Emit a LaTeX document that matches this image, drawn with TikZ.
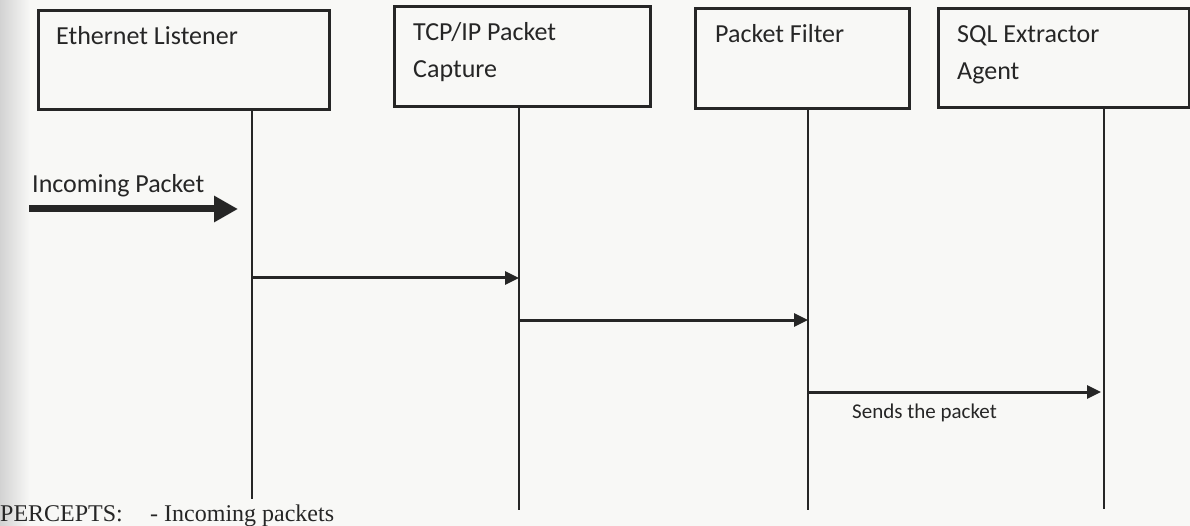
\documentclass[tikz,border=0pt]{standalone}
\usepackage{fontspec}
\setmainfont{Carlito}
\newfontfamily\timesfont{Liberation Serif}
\usetikzlibrary{arrows.meta}
\definecolor{ink}{HTML}{262626}
\definecolor{paper}{HTML}{F8F8F6}
\tikzset{
  lifebox/.style={draw=ink, line width=3.3pt, rectangle, anchor=north west, inner sep=0pt},
  boxlabel/.style={anchor=base west, inner sep=0pt, text=ink, font=\fontsize{26}{37}\selectfont, align=left},
  lifeline/.style={draw=ink, line width=2.8pt},
  msg/.style={draw=ink, line width=3pt, -{Triangle[length=14pt, width=13pt]}},
  bigarrow/.style={draw=ink, line width=7pt, -{Triangle[length=24pt, width=25pt]}},
  smalltext/.style={anchor=base west, inner sep=0pt, text=ink, font=\fontsize{21}{25}\selectfont},
  perctext/.style={anchor=base west, inner sep=0pt, text=ink, font=\timesfont\fontsize{24}{28}\selectfont},
}
\begin{document}
\begin{tikzpicture}[x=1pt, y=-1pt]
\useasboundingbox (0,0) rectangle (1190,526);
\fill[paper] (0,0) rectangle (1190,526);
\shade[left color=gray!35, right color=paper, draw=none] (0,0) rectangle (30,526);

% boxes
\node[lifebox, minimum width=291pt, minimum height=99pt] (b1) at (37,9) {};
\node[lifebox, minimum width=256pt, minimum height=100pt] (b2) at (393,5) {};
\node[lifebox, minimum width=214pt, minimum height=100pt] (b3) at (694,7) {};
\node[lifebox, minimum width=251pt, minimum height=99pt] (b4) at (937,7) {};

% labels
\node[boxlabel] (t1) at (56,45) {Ethernet Listener};
\node[boxlabel] (t2) at (413,78) {TCP/IP Packet\\Capture};
\node[boxlabel] (t3) at (715,43) {Packet Filter};
\node[boxlabel] (t4) at (957,80) {SQL Extractor\\Agent};

% lifeline ends
\coordinate (e1) at (252,499);
\coordinate (e2) at (519,510);
\coordinate (e3) at (808,510);
\coordinate (e4) at (1104,509);
\draw[lifeline] (b1.south -| e1) -- (e1);
\draw[lifeline] (b2.south -| e2) -- (e2);
\draw[lifeline] (b3.south -| e3) -- (e3);
\draw[lifeline] (b4.south -| e4) -- (e4);

% incoming packet
\node[boxlabel] (tin) at (32,193) {Incoming Packet};
\coordinate (ins) at (29,209);
\coordinate (ine) at (238,209);
\draw[bigarrow] (ins) -- (ine);

% messages
\coordinate (m1s) at (252,278);
\coordinate (m1e) at (519,278);
\coordinate (m2s) at (519,320);
\coordinate (m2e) at (808,320);
\coordinate (m3s) at (808,392);
\coordinate (m3e) at (1101,392);
\draw[msg] (m1s) -- (m1e);
\draw[msg] (m2s) -- (m2e);
\draw[msg] (m3s) -- (m3e);
\node[smalltext] (tsend) at (852,418) {Sends the packet};

% percepts
\node[perctext] (tp) at (0,521) {PERCEPTS:};
\node[perctext] (tp2) at (150,521) {- Incoming packets};
\end{tikzpicture}
\end{document}
